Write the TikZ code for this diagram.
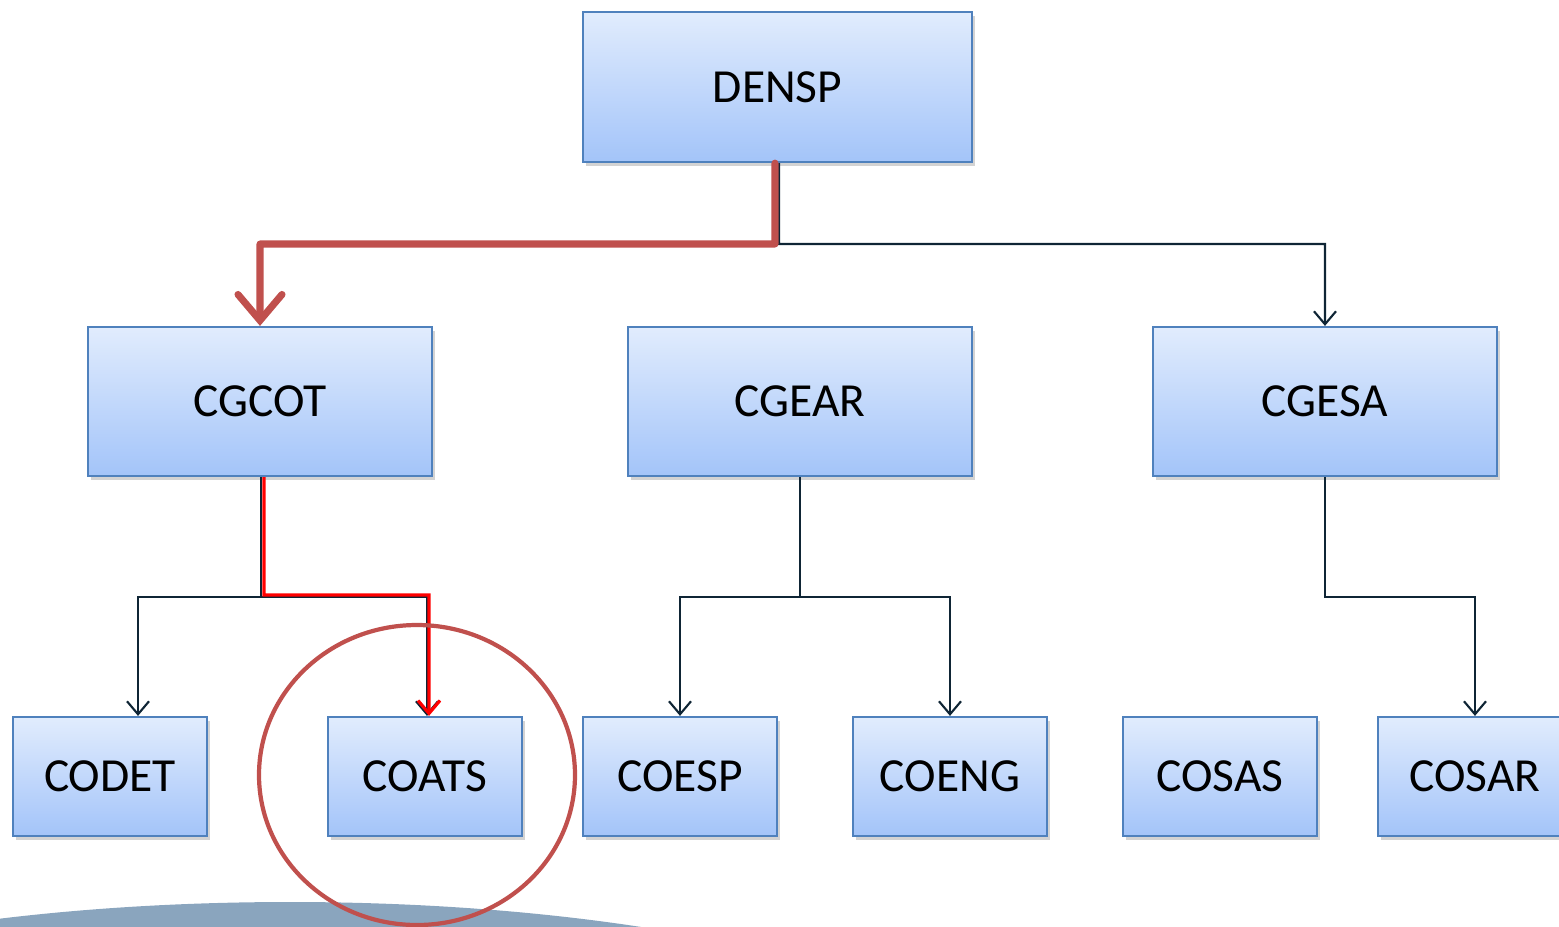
\documentclass[tikz,border=0pt]{standalone}
\usepackage{fontspec}
\setmainfont{Carlito}
\usetikzlibrary{arrows.meta, shadows}

\definecolor{boxtop}{HTML}{E1ECFD}
\definecolor{boxbot}{HTML}{A3C4F9}
\definecolor{boxline}{HTML}{4F81BD}
\definecolor{hotred}{HTML}{C0504D}
\definecolor{linkcol}{HTML}{0F2535}
\definecolor{arcblue}{HTML}{8AA5BE}

\begin{document}
\begin{tikzpicture}[
        x=0.01cm, y=-0.01cm,
        bx/.style={draw=boxline, line width=0.6pt, top color=boxtop, bottom color=boxbot,
          drop shadow={shadow xshift=0.8pt, shadow yshift=-1.2pt, opacity=0.35},
          font=\fontsize{13.5}{16}\selectfont, inner sep=0pt},
        big/.style={bx, minimum width=3.89cm, minimum height=1.5cm},
        mid/.style={bx, minimum width=3.44cm, minimum height=1.49cm},
        small/.style={bx, minimum width=1.94cm, minimum height=1.19cm},
        link/.style={draw=linkcol, line width=0.6pt, -{Straight Barb[length=1.3mm, width=2.2mm]}},
        hot/.style={draw=hotred, line width=2pt, line cap=round, line join=round,
          -{Straight Barb[length=2.6mm, width=4.4mm, line cap=round]}},
        thinhot/.style={draw=red, line width=0.9pt, -{Straight Barb[length=1.3mm, width=2.2mm]}}
      ]
      \clip (0,0) rectangle (1559,926);
      % backdrop arc
      \fill[arcblue] (290,1102) ellipse [x radius=725, y radius=200];

      \node[big] (densp) at (777.5,87) {DENSP};
      \node[mid] (cgcot) at (260,401.5) {CGCOT};
      \node[mid] (cgear) at (800,401.5) {CGEAR};
      \node[mid] (cgesa) at (1325,401.5) {CGESA};
      \node[small] (codet) at (110,776.5) {CODET};
      \node[small] (coats) at (425,776.5) {COATS};
      \node[small] (coesp) at (680,776.5) {COESP};
      \node[small] (coeng) at (950,776.5) {COENG};
      \node[small] (cosas) at (1220,776.5) {COSAS};
      \node[small] (cosar) at (1475,776.5) {COSAR};

      \coordinate (j0) at (779,244);
      \coordinate (r0) at (775,244);
      \coordinate (j1) at (261,597);
      \coordinate (r1) at (264,595);
      \coordinate (j2) at (800,597);
      \coordinate (j3) at (1325,597);

      \draw[link] ([xshift=0.015cm]densp.south) -- (j0) -| (cgesa.north);
      \draw[hot] ([xshift=-0.025cm]densp.south) -- (r0) -| (cgcot.north);

      \draw[link] ([xshift=0.01cm]cgcot.south) -- (j1) -| ([xshift=0.28cm]codet.north);
      \draw[link] (j1) -| ([xshift=0.02cm]coats.north);
      \draw[thinhot] ([xshift=0.04cm]cgcot.south) -- (r1) -| ([xshift=0.04cm]coats.north);

      \draw[link] (cgear.south) -- (j2) -| (coesp.north);
      \draw[link] (j2) -| (coeng.north);
      \draw[link] (cgesa.south) -- (j3) -| (cosar.north);

      % highlight
      \draw[hotred, line width=1.2pt] (417,775) ellipse [x radius=158, y radius=150];
    \end{tikzpicture}
\end{document}
